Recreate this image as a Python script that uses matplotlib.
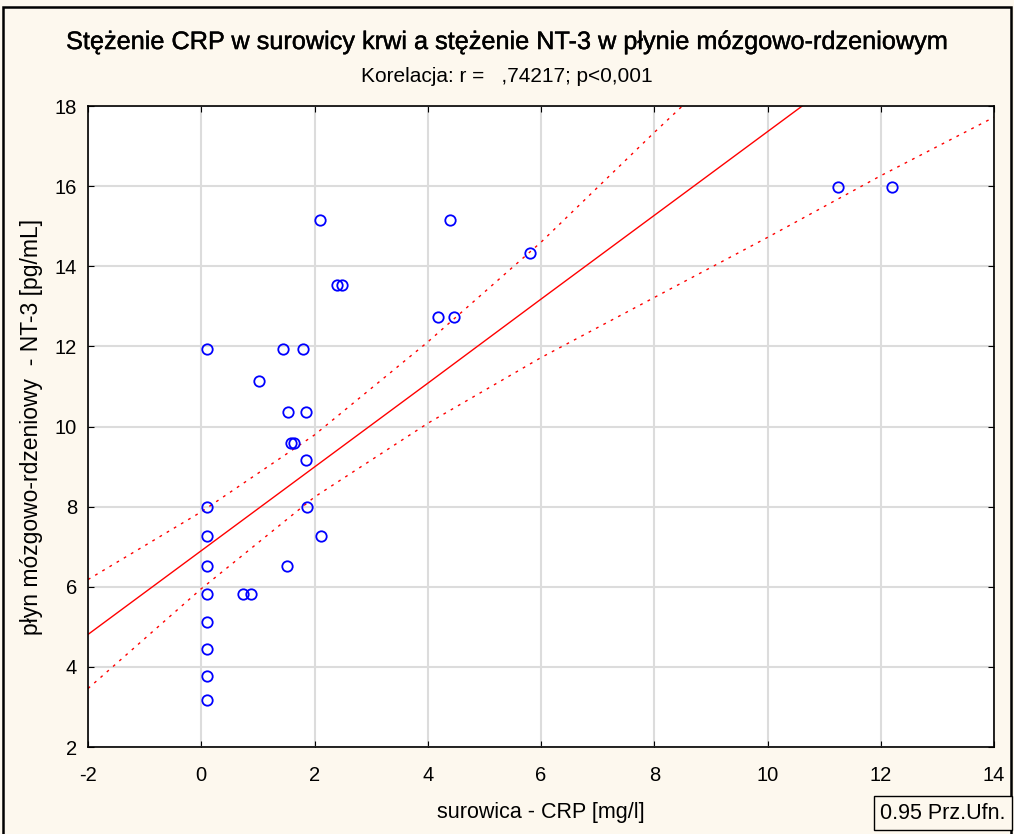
import numpy as np
import matplotlib
matplotlib.use("Agg")
import matplotlib.pyplot as plt
import matplotlib.patheffects as pe
from matplotlib.patches import Rectangle

plt.rcParams['font.family'] = ['Liberation Sans', 'DejaVu Sans']
plt.rcParams['axes.unicode_minus'] = False

# values
crp = [0.1, 0.1, 0.1, 0.1, 0.1, 0.1, 0.1, 0.1, 0.1,
       1.02, 1.45, 1.80, 1.53, 1.85, 1.59, 1.64, 1.85, 1.87, 1.52, 2.12,
       0.74, 0.88, 2.10, 2.40, 2.49, 4.18, 4.47, 4.40, 5.81, 11.25, 12.20]
nt3 = [11.93, 8.0, 7.27, 6.52, 5.82, 5.12, 4.45, 3.77, 3.17,
       11.14, 11.93, 11.93, 10.36, 10.36, 9.59, 9.59, 9.16, 8.0, 6.52, 7.27,
       5.82, 5.82, 15.15, 13.53, 13.53, 12.73, 12.73, 15.15, 14.33, 15.98, 15.98]

# regression line and 0.95 confidence band, read at the grid columns
band_x = [-2, 0, 2, 4, 6, 8, 10, 12, 14]
fit_y = [4.81, 6.90, 8.99, 11.08, 13.18, 15.27, 17.36, 19.45, 21.55]
upper_y = [6.18, 7.87, 9.79, 12.11, 14.60, 17.34, 20.0, 22.7, 25.4]
lower_y = [3.46, 5.95, 8.24, 10.08, 11.72, 13.22, 14.72, 16.26, 17.72]

x_ticks = [-2, 0, 2, 4, 6, 8, 10, 12, 14]
y_ticks = [2, 4, 6, 8, 10, 12, 14, 16, 18]

fig = plt.figure(figsize=(10.14, 8.34), dpi=100, facecolor='#fdf8ee')
fig.patches.append(Rectangle((0.003, -0.05), 0.994, 1.0416, transform=fig.transFigure,
                             fill=False, edgecolor='black', linewidth=1.8))
ax = fig.add_axes([0.0868, 0.1043, 0.8935, 0.7686])
ax.set_facecolor('white')

ax.plot(band_x, fit_y, color='red', lw=1)
ax.plot(band_x, upper_y, color='red', lw=1, ls=(0, (2, 4)))
ax.plot(band_x, lower_y, color='red', lw=1, ls=(0, (2, 4)))
ax.plot(crp, nt3, 'o', mfc='none', mec='blue', ms=7.5, mew=1.3, clip_on=False)

ax.set_xlim(-2, 14)
ax.set_ylim(2, 18)
ax.set_xticks(x_ticks)
ax.set_yticks(y_ticks)
ax.grid(True, color='#dcdcdc', lw=1.5)
ax.set_axisbelow(True)
ax.tick_params(direction='in', length=4, labelsize=14.5, colors='black',
               top=True, right=True)
ax.tick_params(axis='x', pad=14)
ax.tick_params(axis='y', pad=8)
for sp in ax.spines.values():
    sp.set_linewidth(1.2)

ax.set_xlabel('surowica - CRP [mg/l]', fontsize=15.5, labelpad=12)
ax.set_ylabel('płyn mózgowo-rdzeniowy  - NT-3 [pg/mL]', fontsize=16.5, labelpad=8)
fig.text(0.5, 0.9496, 'Stężenie CRP w surowicy krwi a stężenie NT-3 w płynie mózgowo-rdzeniowym',
         ha='center', va='center', fontsize=18.2,
         path_effects=[pe.withStroke(linewidth=0.3, foreground='black')])
fig.text(0.5, 0.908, 'Korelacja: r =   ,74217; p<0,001', ha='center', va='center', fontsize=15)
fig.text(0.930, 0.025, '0.95 Prz.Ufn.', ha='center', va='center', fontsize=15.5,
         bbox=dict(boxstyle='square,pad=0.3', fc='#fdf8ee', ec='black', lw=1))

fig.savefig('out.png', dpi=100, facecolor=fig.get_facecolor())
